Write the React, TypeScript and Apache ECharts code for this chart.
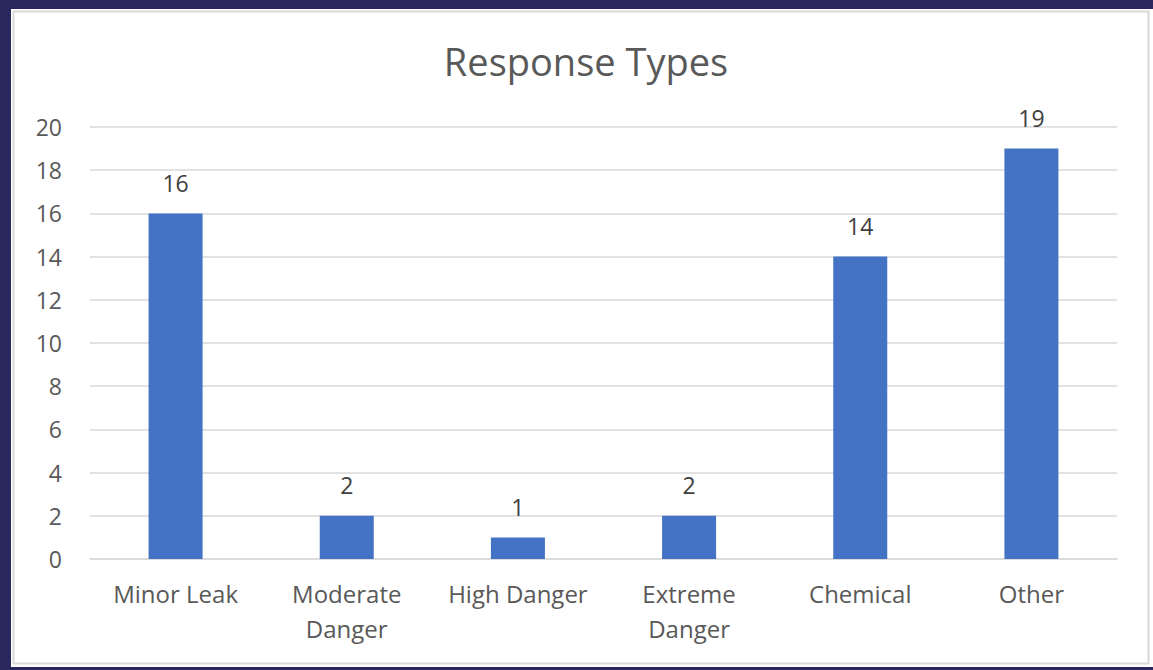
import React, { useEffect, useRef } from "react";
import * as echarts from "echarts";

const categories = ["Minor Leak", "Moderate\nDanger", "High Danger", "Extreme\nDanger", "Chemical", "Other"];
const responseCounts = [16, 2, 1, 2, 14, 19];
const yTicks = { min: 0, max: 20, interval: 2 };

const FONT = "'Open Sans', sans-serif";

export default function App() {
  const ref = useRef<HTMLDivElement>(null);

  useEffect(() => {
    if (!ref.current) return;
    const chart = echarts.init(ref.current, null, { renderer: "svg" });
    chart.setOption({
      animation: false,
      backgroundColor: "#ffffff",
      graphic: [
        { type: "rect", z: -10, silent: true, shape: { x: 0, y: 0, width: 1153, height: 670 }, style: { fill: "#28285f" } },
        { type: "rect", z: -9, silent: true, shape: { x: 11, y: 9, width: 1142, height: 658 }, style: { fill: "#ffffff" } },
        { type: "rect", z: -8, silent: true, shape: { x: 13.5, y: 11.5, width: 1135, height: 652 }, style: { fill: "none", stroke: "#d9d9d9", lineWidth: 2 } },
      ],
      title: {
        text: "Response Types",
        left: 581,
        textAlign: "center",
        top: 37,
        textStyle: { fontFamily: FONT, fontSize: 38, fontWeight: "normal", color: "#595959" },
      },
      grid: { left: 90, right: 36, top: 127, bottom: 111, containLabel: false },
      xAxis: {
        type: "category",
        data: categories,
        axisLine: { show: true, lineStyle: { color: "#d9d9d9", width: 1.5 } },
        axisTick: { show: false },
        axisLabel: { fontFamily: FONT, fontSize: 24, color: "#595959", margin: 17, lineHeight: 35, interval: 0 },
      },
      yAxis: {
        type: "value",
        min: yTicks.min,
        max: yTicks.max,
        interval: yTicks.interval,
        axisLine: { show: false },
        axisTick: { show: false },
        splitLine: { lineStyle: { color: "#d9d9d9", width: 1.5 } },
        axisLabel: { fontFamily: FONT, fontSize: 23, color: "#595959", margin: 28 },
      },
      series: [
        {
          type: "bar",
          data: responseCounts,
          barWidth: 54,
          itemStyle: { color: "#4472c4" },
          label: { show: true, position: "top", distance: 19, fontFamily: FONT, fontSize: 23, color: "#404040" },
        },
      ],
    });
    return () => chart.dispose();
  }, []);

  return <div ref={ref} style={{ position: "fixed", left: 0, top: 0, width: 1153, height: 670 }} />;
}
